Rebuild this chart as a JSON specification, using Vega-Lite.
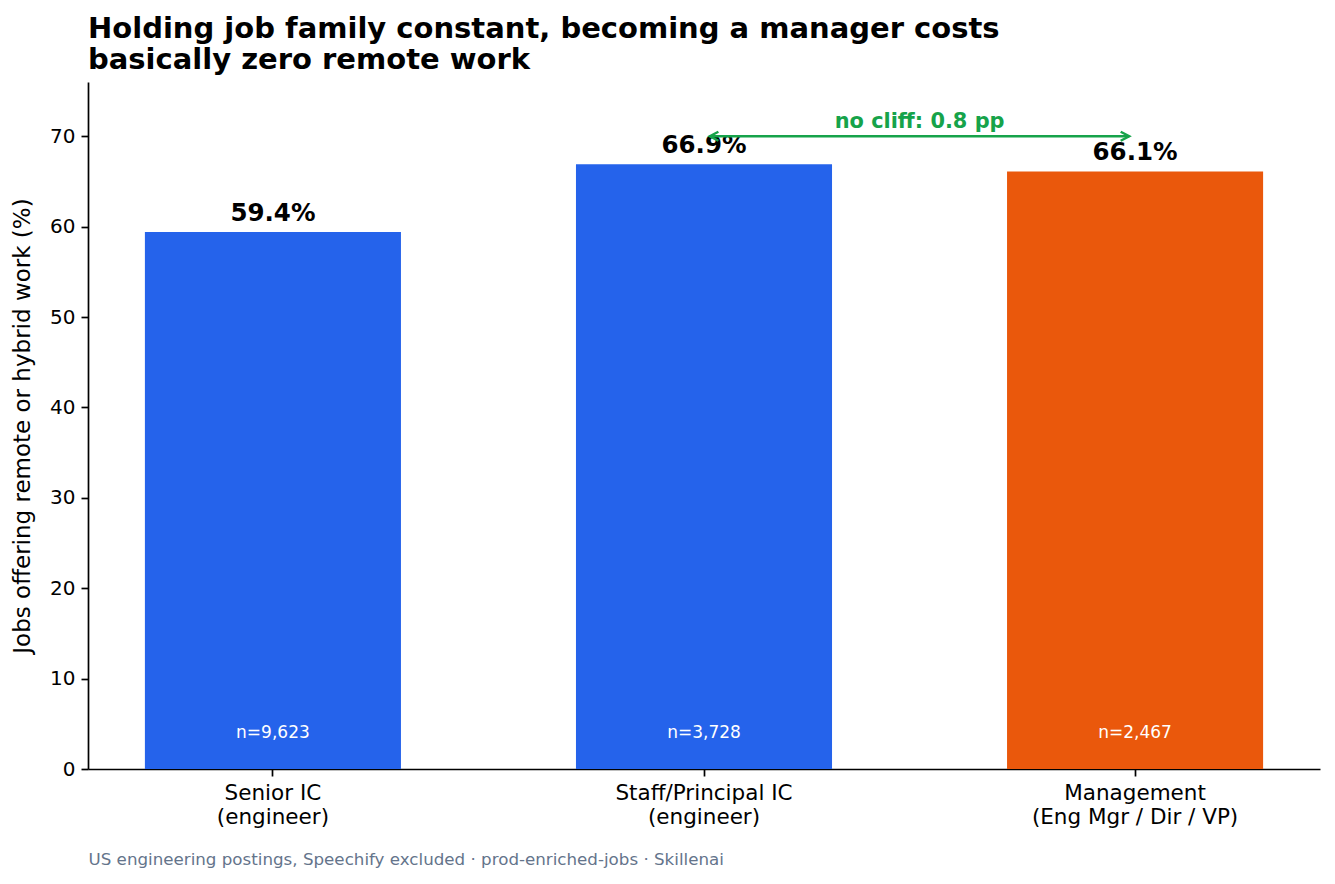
{
  "$schema": "https://vega.github.io/schema/vega-lite/v6.json",
  "width": 1232,
  "height": 687,
  "autosize": {"type": "none"},
  "padding": {"left": 88, "top": 82, "right": 15, "bottom": 115},
  "background": "white",
  "config": {"font": "DejaVu Sans", "view": {"stroke": null}},
  "title": {
    "text": ["Holding job family constant, becoming a manager costs", "basically zero remote work"],
    "anchor": "start",
    "frame": "group",
    "font": "DejaVu Sans",
    "fontSize": 29,
    "fontWeight": "bold",
    "color": "black",
    "lineHeight": 31,
    "offset": 7
  },
  "data": {
    "values": [
      {"role": "Senior IC (engineer)", "pct": 59.4, "label": "59.4%", "n": "n=9,623", "group": "IC"},
      {"role": "Staff/Principal IC (engineer)", "pct": 66.9, "label": "66.9%", "n": "n=3,728", "group": "IC"},
      {"role": "Management (Eng Mgr / Dir / VP)", "pct": 66.1, "label": "66.1%", "n": "n=2,467", "group": "Manager"}
    ]
  },
  "encoding": {
    "x": {
      "field": "role",
      "type": "nominal",
      "sort": null,
      "scale": {
        "domain": ["Senior IC (engineer)", "Staff/Principal IC (engineer)", "Management (Eng Mgr / Dir / VP)"],
        "paddingInner": 0.406,
        "paddingOuter": 0.132
      },
      "axis": {
        "labelAngle": 0,
        "labelExpr": "split(replace(datum.label, ' (', '|('), '|')",
        "labelFontSize": 21.5,
        "labelLineHeight": 24,
        "labelLimit": 500,
        "labelColor": "black",
        "labelPadding": 6,
        "tickSize": 7,
        "tickColor": "black",
        "tickWidth": 1.7,
        "domainColor": "black",
        "domainWidth": 1.7,
        "title": "US engineering postings, Speechify excluded · prod-enriched-jobs · Skillenai",
        "titleFontSize": 16.7,
        "titleFontWeight": "normal",
        "titleColor": "#64748b",
        "titleAnchor": "start",
        "titleAlign": "left",
        "titlePadding": 24
      }
    }
  },
  "layer": [
    {
      "mark": {"type": "bar"},
      "encoding": {
        "y": {
          "field": "pct",
          "type": "quantitative",
          "scale": {"domain": [0, 76], "nice": false},
          "axis": {
            "values": [0, 10, 20, 30, 40, 50, 60, 70],
            "grid": false,
            "labelFontSize": 20,
            "labelColor": "black",
            "labelPadding": 6,
            "tickSize": 7,
            "tickColor": "black",
            "tickWidth": 1.7,
            "domainColor": "black",
            "domainWidth": 1.7,
            "title": "Jobs offering remote or hybrid work (%)",
            "titleFontSize": 23,
            "titleFontWeight": "normal",
            "titleColor": "black",
            "titlePadding": 15
          }
        },
        "color": {
          "field": "group",
          "type": "nominal",
          "scale": {"domain": ["IC", "Manager"], "range": ["#2563eb", "#ea580c"]},
          "legend": null
        }
      }
    },
    {
      "mark": {"type": "text", "fontSize": 24.5, "fontWeight": "bold", "color": "black", "baseline": "alphabetic", "dy": -11},
      "encoding": {
        "y": {"field": "pct", "type": "quantitative"},
        "text": {"field": "label"}
      }
    },
    {
      "mark": {"type": "text", "fontSize": 17, "color": "white", "baseline": "bottom"},
      "encoding": {
        "y": {"datum": 3},
        "text": {"field": "n"}
      }
    },
    {
      "data": {"values": [{"from": "Staff/Principal IC (engineer)", "to": "Management (Eng Mgr / Dir / VP)", "note": "no cliff: 0.8 pp"}]},
      "layer": [
        {
          "mark": {"type": "rule", "color": "#16a34a", "strokeWidth": 2.5},
          "encoding": {
            "x": {"field": "from", "type": "nominal", "bandPosition": 0.523},
            "x2": {"field": "to", "bandPosition": 0.477},
            "y": {"datum": 70}
          }
        },
        {
          "mark": {"type": "point", "shape": "M0.85,-0.45 L0,0 L0.85,0.45", "filled": false, "stroke": "#16a34a", "strokeWidth": 2.5, "size": 400, "opacity": 1},
          "encoding": {
            "x": {"field": "from", "type": "nominal", "bandPosition": 0.523},
            "y": {"datum": 70}
          }
        },
        {
          "mark": {"type": "point", "shape": "M-0.85,-0.45 L0,0 L-0.85,0.45", "filled": false, "stroke": "#16a34a", "strokeWidth": 2.5, "size": 400, "opacity": 1},
          "encoding": {
            "x": {"field": "to", "type": "nominal", "bandPosition": 0.477},
            "y": {"datum": 70}
          }
        },
        {
          "mark": {"type": "text", "fontSize": 20.9, "fontWeight": "bold", "color": "#16a34a", "baseline": "bottom", "dy": -4},
          "encoding": {
            "x": {"field": "from", "type": "nominal", "bandPosition": 1.342},
            "y": {"datum": 70},
            "text": {"field": "note"}
          }
        }
      ]
    }
  ]
}
